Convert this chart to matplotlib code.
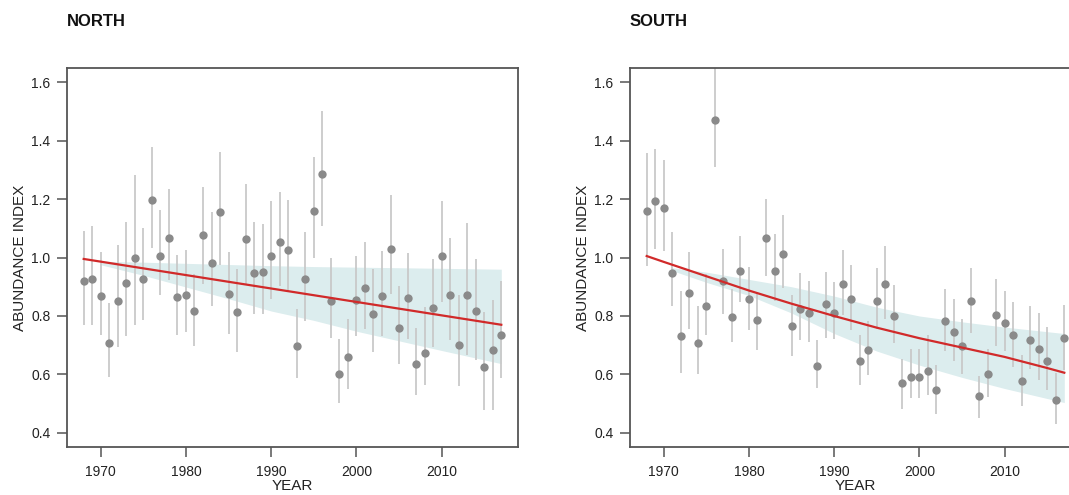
import numpy as np
import matplotlib
matplotlib.use("Agg")
import matplotlib.pyplot as plt

plt.rcParams['font.family'] = ['Liberation Sans', 'DejaVu Sans']

# Data
years = np.arange(1968, 2018)

north_val = [0.919, 0.925, 0.870, 0.708, 0.852, 0.914, 0.998, 0.927, 1.196, 1.005,
             1.066, 0.864, 0.872, 0.818, 1.076, 0.981, 1.156, 0.876, 0.812, 1.064,
             0.947, 0.949, 1.005, 1.052, 1.025, 0.696, 0.925, 1.160, 1.287, 0.852,
             0.603, 0.661, 0.854, 0.894, 0.807, 0.870, 1.028, 0.759, 0.860, 0.636,
             0.672, 0.828, 1.006, 0.871, 0.700, 0.872, 0.816, 0.625, 0.682, 0.735]
north_lo = [0.768, 0.768, 0.735, 0.591, 0.694, 0.732, 0.768, 0.787, 1.034, 0.871,
            0.922, 0.734, 0.745, 0.697, 0.911, 0.834, 0.973, 0.740, 0.677, 0.911,
            0.808, 0.808, 0.859, 0.903, 0.882, 0.588, 0.782, 0.998, 1.108, 0.726,
            0.504, 0.552, 0.731, 0.757, 0.677, 0.732, 0.876, 0.637, 0.723, 0.529,
            0.565, 0.694, 0.848, 0.717, 0.561, 0.666, 0.649, 0.478, 0.478, 0.588]
north_hi = [1.090, 1.107, 1.019, 0.845, 1.044, 1.121, 1.283, 1.101, 1.378, 1.162,
            1.234, 1.010, 1.025, 0.945, 1.241, 1.154, 1.361, 1.019, 0.962, 1.250,
            1.121, 1.116, 1.192, 1.224, 1.198, 0.823, 1.087, 1.344, 1.500, 1.000,
            0.720, 0.789, 1.005, 1.053, 0.960, 1.021, 1.213, 0.901, 1.017, 0.759,
            0.831, 0.994, 1.192, 1.067, 0.871, 1.119, 0.994, 0.812, 0.853, 0.919]

south_val = [1.159, 1.192, 1.170, 0.948, 0.730, 0.880, 0.708, 0.835, 1.471, 0.920,
             0.797, 0.954, 0.859, 0.785, 1.067, 0.955, 1.013, 0.766, 0.825, 0.810,
             0.628, 0.840, 0.810, 0.910, 0.857, 0.646, 0.685, 0.852, 0.910, 0.800,
             0.570, 0.593, 0.593, 0.611, 0.546, 0.782, 0.744, 0.696, 0.850, 0.525,
             0.600, 0.803, 0.776, 0.735, 0.578, 0.719, 0.688, 0.646, 0.514, 0.726]
south_lo = [0.971, 1.028, 1.021, 0.833, 0.606, 0.755, 0.600, 0.736, 1.309, 0.806,
            0.711, 0.848, 0.751, 0.683, 0.937, 0.850, 0.894, 0.663, 0.719, 0.711,
            0.554, 0.726, 0.720, 0.802, 0.751, 0.565, 0.597, 0.757, 0.791, 0.706,
            0.483, 0.518, 0.518, 0.531, 0.466, 0.679, 0.645, 0.603, 0.743, 0.451,
            0.523, 0.697, 0.679, 0.626, 0.492, 0.620, 0.580, 0.546, 0.429, 0.614]
south_hi = [1.358, 1.372, 1.332, 1.087, 0.884, 1.019, 0.833, 0.945, 1.700, 1.030,
            0.891, 1.072, 0.966, 0.882, 1.201, 1.079, 1.147, 0.871, 0.948, 0.919,
            0.717, 0.950, 0.916, 1.025, 0.973, 0.736, 0.782, 0.964, 1.039, 0.907,
            0.652, 0.686, 0.686, 0.736, 0.631, 0.891, 0.857, 0.791, 0.964, 0.595,
            0.688, 0.928, 0.887, 0.848, 0.668, 0.833, 0.811, 0.762, 0.606, 0.837]

# trend lines
north_trend_years = [1968, 2017]
north_trend = [0.995, 0.770]
south_trend_years = [1968, 1970, 1975, 1980, 1985, 1990, 1995, 2000, 2005, 2010, 2015, 2017]
south_trend = [1.005, 0.985, 0.936, 0.887, 0.842, 0.800, 0.760, 0.724, 0.692, 0.660, 0.622, 0.606]

# confidence bands
north_band_years = [1970, 1975, 1980, 1985, 1990, 1995, 2000, 2005, 2010, 2017]
north_band_hi = [0.987, 0.984, 0.980, 0.976, 0.972, 0.969, 0.967, 0.965, 0.963, 0.960]
north_band_lo = [0.975, 0.939, 0.899, 0.859, 0.817, 0.785, 0.748, 0.715, 0.682, 0.637]
south_band_years = [1971, 1975, 1980, 1985, 1990, 1995, 2000, 2005, 2010, 2017]
south_band_hi = [0.965, 0.950, 0.925, 0.900, 0.868, 0.830, 0.800, 0.780, 0.762, 0.740]
south_band_lo = [0.955, 0.915, 0.870, 0.810, 0.740, 0.680, 0.632, 0.590, 0.552, 0.504]

xticks = [1970, 1980, 1990, 2000, 2010]
yticks = [0.4, 0.6, 0.8, 1.0, 1.2, 1.4, 1.6]

fig = plt.figure(figsize=(10.69, 4.95), dpi=100)
W, H = 1069, 495
ax1 = fig.add_axes([67 / W, 1 - 447 / H, 451 / W, 379 / H])
ax2 = fig.add_axes([630 / W, 1 - 447 / H, 451 / W, 379 / H])

panels = [
    (ax1, "NORTH", north_val, north_lo, north_hi, north_trend_years, north_trend,
     north_band_years, north_band_lo, north_band_hi),
    (ax2, "SOUTH", south_val, south_lo, south_hi, south_trend_years, south_trend,
     south_band_years, south_band_lo, south_band_hi),
]

for ax, title, val, lo, hi, ty, tv, by, blo, bhi in panels:
    ax.fill_between(by, blo, bhi, color='#dcedee', lw=0, zorder=1)
    ax.vlines(years, lo, hi, color='#c9c9c9', lw=1.3, zorder=2)
    ax.plot(years, val, 'o', color='#8a8a8a', ms=6, mec='none', zorder=3)
    ax.plot(ty, tv, color='#d12a2a', lw=1.6, zorder=4)

    ax.set_xlim(1966.04, 2018.96)
    ax.set_ylim(0.352, 1.648)
    ax.set_xticks(xticks)
    ax.set_yticks(yticks)
    ax.set_yticklabels([f"{t:.1f}" for t in yticks])
    for s in ax.spines.values():
        s.set_color('#555555')
        s.set_linewidth(1.3)
    ax.tick_params(direction='out', length=7, width=1.1, color='#555555',
                   labelsize=10, labelcolor='#222222')
    ax.tick_params(axis='x', pad=6)
    ax.tick_params(axis='y', pad=5)
    ax.set_xlabel("YEAR", fontsize=11, labelpad=0, color='#222222')
    ax.set_ylabel("ABUNDANCE INDEX", fontsize=11, labelpad=3, color='#222222')
    pos = ax.get_position()
    fig.text(pos.x0, 1 - 22 / H, title, fontsize=12, fontweight='bold',
             va='center', ha='left', color='#111111')

plt.savefig("out.png", dpi=100)
